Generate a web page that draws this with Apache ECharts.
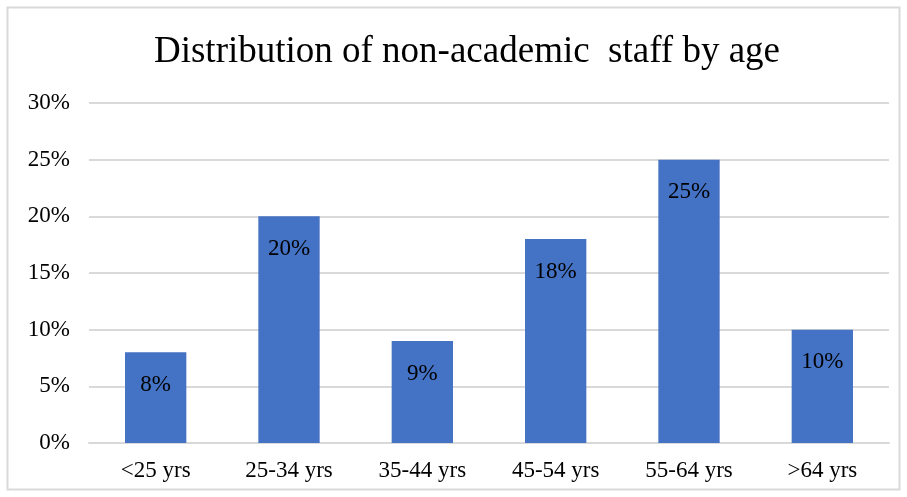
<!DOCTYPE html>
<html>
<head>
<meta charset="utf-8">
<script src="https://cdn.jsdelivr.net/npm/echarts@6/dist/echarts.min.js"></script>
<style>
html,body{margin:0;padding:0;background:#fff;}
#main{width:907px;height:497px;}
</style>
</head>
<body>
<div id="main"></div>
<script>
var categories = ['<25 yrs', '25-34 yrs', '35-44 yrs', '45-54 yrs', '55-64 yrs', '>64 yrs'];
var shares = [8, 20, 9, 18, 25, 10];
var yTicks = [0, 5, 10, 15, 20, 25, 30];

var serif = '"Liberation Serif", "Times New Roman", serif';
var myChart = echarts.init(document.getElementById('main'));
var option = {
    backgroundColor: '#fff',
    title: {
        text: 'Distribution of non-academic  staff by age',
        left: 462,
        textAlign: 'center',
        top: 29,
        textStyle: {
            fontFamily: serif,
            fontWeight: 'normal',
            fontSize: 37,
            color: '#000'
        }
    },
    graphic: [{
        type: 'rect',
        shape: { x: 7.5, y: 7.5, width: 892, height: 482 },
        style: { fill: 'none', stroke: '#d9d9d9', lineWidth: 2 },
        silent: true
    }],
    grid: {
        left: 89,
        right: 18,
        top: 103,
        bottom: 54
    },
    xAxis: {
        type: 'category',
        data: categories,
        axisLine: { lineStyle: { color: '#d9d9d9', width: 2 } },
        axisTick: { show: false },
        axisLabel: {
            fontFamily: serif,
            fontSize: 23,
            color: '#000',
            margin: 16
        }
    },
    yAxis: {
        type: 'value',
        min: yTicks[0],
        max: yTicks[yTicks.length - 1],
        interval: 5,
        axisLine: { show: false },
        axisTick: { show: false },
        splitLine: { lineStyle: { color: '#d9d9d9', width: 2 } },
        axisLabel: {
            fontFamily: serif,
            fontSize: 23,
            color: '#000',
            margin: 19,
            formatter: '{value}%'
        }
    },
    series: [{
        type: 'bar',
        data: shares,
        barWidth: '46%',
        itemStyle: { color: '#4472c4' },
        label: {
            show: true,
            position: 'insideTop',
            distance: 21,
            formatter: '{c}%',
            fontFamily: serif,
            fontSize: 23,
            color: '#000'
        }
    }]
};
myChart.setOption(option);
</script>
</body>
</html>
